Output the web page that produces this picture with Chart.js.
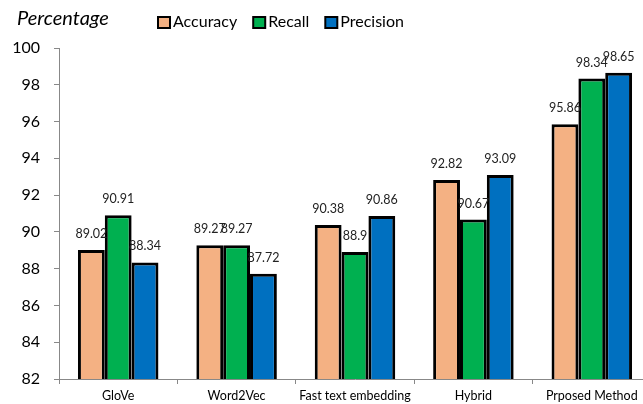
<!DOCTYPE html>
<html>
<head>
<meta charset="utf-8">
<script src="https://cdn.jsdelivr.net/npm/chart.js@4/dist/chart.umd.min.js"></script>
<style>
  html, body { margin: 0; padding: 0; background: #fff; overflow: hidden; }
  #wrap { position: relative; width: 652px; height: 404px; }
</style>
</head>
<body>
<div id="wrap"><canvas id="c"></canvas></div>
<script>
const categories = ['GloVe', 'Word2Vec', 'Fast text embedding', 'Hybrid', 'Prposed Method'];
const accuracy  = [89.02, 89.27, 90.38, 92.82, 95.86];
const recall    = [90.91, 89.27, 88.9, 90.67, 98.34];
const precision = [88.34, 87.72, 90.86, 93.09, 98.65];
const yTicks = [82, 84, 86, 88, 90, 92, 94, 96, 98, 100];

const FONT = 'Lato, "Open Sans", sans-serif';

// value labels above every bar
const valueLabels = {
  id: 'valueLabels',
  afterDatasetsDraw(chart) {
    const ctx = chart.ctx;
    ctx.save();
    ctx.font = '12.5px ' + FONT;
    ctx.fillStyle = '#222';
    ctx.textAlign = 'center';
    ctx.textBaseline = 'middle';
    chart.data.datasets.forEach((ds, di) => {
      chart.getDatasetMeta(di).data.forEach((bar, i) => {
        ctx.fillText(String(ds.data[i]), bar.x, bar.y - 16);
      });
    });
    ctx.restore();
  }
};

// axis caption and legend row along the top
const header = {
  id: 'header',
  afterDraw(chart) {
    const ctx = chart.ctx;
    ctx.save();
    ctx.textBaseline = 'middle';
    ctx.fillStyle = '#000';
    ctx.font = 'italic 20px ' + FONT;
    ctx.textAlign = 'left';
    ctx.fillText('Percentage', 17, 19);

    ctx.font = '16px ' + FONT;
    let x = 158;
    chart.data.datasets.forEach(ds => {
      ctx.fillStyle = ds.backgroundColor;
      ctx.fillRect(x, 17, 12, 11);
      ctx.lineWidth = 2;
      ctx.strokeStyle = '#000';
      ctx.strokeRect(x, 17, 12, 11);
      ctx.fillStyle = '#000';
      ctx.fillText(ds.label, x + 15, 22);
      x += 15 + ctx.measureText(ds.label).width + 16;
    });
    ctx.restore();
  }
};

new Chart(document.getElementById('c'), {
  type: 'bar',
  data: {
    labels: categories,
    datasets: [
      { label: 'Accuracy',  data: accuracy,  backgroundColor: '#F4B183' },
      { label: 'Recall',    data: recall,    backgroundColor: '#00B050' },
      { label: 'Precision', data: precision, backgroundColor: '#0070C0' }
    ].map(d => Object.assign(d, { borderColor: '#000', borderWidth: 3, borderSkipped: false }))
  },
  options: {
    responsive: true,
    maintainAspectRatio: false,
    animation: false,
    datasets: { bar: { barPercentage: 1, categoryPercentage: 0.68 } },
    layout: { padding: { top: 48, left: 0, right: 1, bottom: 0 } },
    plugins: { legend: { display: false }, tooltip: { enabled: false } },
    scales: {
      x: {
        grid: { display: true, offset: true, drawOnChartArea: false, tickLength: 5, color: '#888' },
        border: { display: true, color: '#888', width: 1 },
        ticks: { font: { family: FONT, size: 12.5 }, color: '#000', padding: 4, maxRotation: 0, autoSkip: false },
        afterFit: s => { s.height = 25; }
      },
      y: {
        min: yTicks[0],
        max: yTicks[yTicks.length - 1],
        afterBuildTicks: s => { s.ticks = yTicks.map(v => ({ value: v })); },
        grid: { display: true, drawOnChartArea: false, tickLength: 5, color: '#888' },
        border: { display: true, color: '#888', width: 1 },
        ticks: { font: { family: FONT, size: 16 }, color: '#000', padding: 14 },
        afterFit: s => { s.width = 59; }
      }
    }
  },
  plugins: [valueLabels, header]
});
</script>
</body>
</html>
